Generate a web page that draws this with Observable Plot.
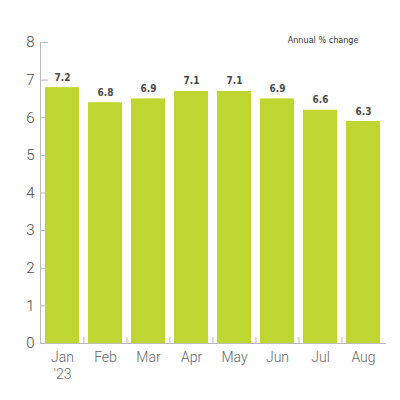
<!DOCTYPE html>
<html>
<head>
<meta charset="utf-8">
<script src="https://cdn.jsdelivr.net/npm/d3@7"></script>
<script src="https://cdn.jsdelivr.net/npm/@observablehq/plot@0.6"></script>
<style>
  body { margin: 0; background: #fff; }
</style>
</head>
<body>
<div id="chart"></div>
<script>
const months = ["Jan", "Feb", "Mar", "Apr", "May", "Jun", "Jul", "Aug"];
// bar heights as drawn in the picture
const barValues = [6.8, 6.4, 6.5, 6.7, 6.7, 6.5, 6.2, 5.9];
// printed labels above the bars
const labels = ["7.2", "6.8", "6.9", "7.1", "7.1", "6.9", "6.6", "6.3"];
const yTicks = [0, 1, 2, 3, 4, 5, 6, 7, 8];

const data = months.map((m, i) => ({ month: m, value: barValues[i], label: labels[i] }));

const green = "#bed62f";
const axisGrey = "#bbb";
const step = 345 / (8 - 0.21 + 0.2);
const condensed = "'DejaVu Sans Condensed', 'Liberation Sans Narrow', sans-serif";

const chart = Plot.plot({
  width: 400,
  height: 400,
  marginTop: 42,
  marginBottom: 57,
  marginLeft: 40,
  marginRight: 15,
  style: { background: "#fff", overflow: "visible" },
  x: { domain: months, paddingInner: 0.21, paddingOuter: 0.1 },
  y: { domain: [0, 8] },
  marks: [
    // short tick marks on the y axis (behind the bars)
    Plot.ruleY(yTicks, { y: d => d, stroke: axisGrey, insetRight: 337 }),
    Plot.barY(data, { x: "month", y: "value", fill: green }),
    Plot.text(data, {
      x: "month", y: "value", text: "label",
      dy: -7, lineAnchor: "bottom",
      fill: "#4a4a4a", fontSize: 10, fontWeight: "bold",
      fontFamily: condensed
    }),
    Plot.frame({ anchor: "left", stroke: axisGrey }),
    Plot.frame({ anchor: "bottom", stroke: axisGrey }),
    // small ticks between the bars
    Plot.ruleX(months.slice(1), { x: d => d, dx: -step / 2, stroke: axisGrey, insetTop: 295 }),
    Plot.axisY(yTicks, {
      tickSize: 0, tickPadding: 6, fontSize: 15, fill: "#4a4a4a",
      fontFamily: "Roboto, sans-serif", fontWeight: 300, label: null
    }),
    Plot.axisX({
      tickSize: 0, tickPadding: 7, fontSize: 14, fill: "#666", lineHeight: 1.2,
      fontFamily: "Roboto, sans-serif", fontWeight: 300, label: null,
      tickFormat: d => d === "Jan" ? "Jan\n'23" : d
    }),
    Plot.text(["Annual % change"], {
      frameAnchor: "top-right", dx: -27, dy: -2, lineAnchor: "middle",
      fill: "#333", fontSize: 9,
      fontFamily: condensed
    })
  ]
});

document.getElementById("chart").append(chart);
</script>
</body>
</html>
